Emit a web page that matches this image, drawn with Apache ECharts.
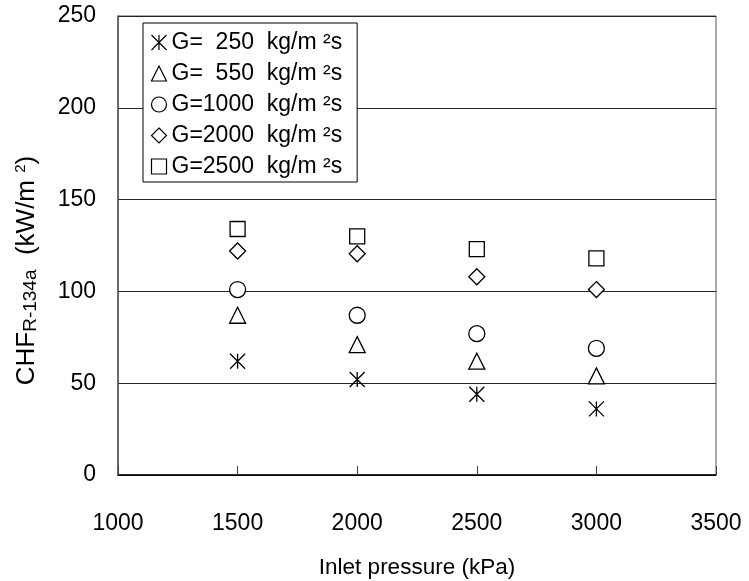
<!DOCTYPE html>
<html>
<head>
<meta charset="utf-8">
<script src="https://cdn.jsdelivr.net/npm/echarts@6/dist/echarts.min.js"></script>
<style>html,body{margin:0;padding:0;background:#fff;}#c{width:749px;height:581px;}</style>
</head>
<body>
<div id="c"></div>
<script>
var pressures = [1500, 2000, 2500, 3000];
var g250  = [62, 52, 44, 36];
var g550  = [87, 71, 62, 54];
var g1000 = [101, 87, 77, 69];
var g2000 = [122, 120.5, 108, 101];
var g2500 = [134, 130, 123, 118];
var seriesNames = ['G=  250  kg/m \u00B2s', 'G=  550  kg/m \u00B2s', 'G=1000  kg/m \u00B2s', 'G=2000  kg/m \u00B2s', 'G=2500  kg/m \u00B2s'];
var xTicks = [1000, 1500, 2000, 2500, 3000, 3500];
var yTicks = [0, 50, 100, 150, 200, 250];

var FONT = '"Liberation Sans", Arial, sans-serif';
var asterisk = 'path://M0,0L10,10M10,0L0,10M5,0L5,10';
var symbols = [asterisk, 'triangle', 'circle', 'diamond', 'rect'];
var sizes = [15, 16, 16, 16, 15];
var values = [g250, g550, g1000, g2000, g2500];

function pairs(v) { return pressures.map(function (p, i) { return [p, v[i]]; }); }

var series = values.map(function (v, k) {
  return {
    name: seriesNames[k],
    type: 'scatter',
    data: pairs(v),
    symbol: symbols[k],
    symbolSize: sizes[k],
    itemStyle: { color: k === 0 ? 'none' : '#fff', borderColor: '#000', borderWidth: 1.3, opacity: 1 },
    emphasis: { disabled: true },
    z: 5
  };
});

var chart = echarts.init(document.getElementById('c'), null, { renderer: 'canvas' });
chart.setOption({
  animation: false,
  backgroundColor: '#fff',
  textStyle: { fontFamily: FONT },
  grid: { left: 118, top: 16, width: 598, height: 459, containLabel: false, outerBoundsMode: 'none', show: true, borderColor: '#555', borderWidth: 1, backgroundColor: 'transparent' },
  legend: {
    orient: 'vertical',
    left: 143, top: 23,
    padding: [8, 15, 4, 6],
    itemGap: 8,
    itemWidth: 15, itemHeight: 15,
    backgroundColor: '#fff',
    borderColor: '#000',
    borderWidth: 1,
    textStyle: { fontSize: 23, color: '#000', fontFamily: FONT },
    data: seriesNames.map(function (n, k) {
      return { name: n, icon: symbols[k], itemStyle: { color: k === 0 ? 'none' : '#fff', borderColor: '#000', borderWidth: 1.2 } };
    })
  },
  xAxis: {
    type: 'value', min: 1000, max: 3500, interval: 500,
    name: 'Inlet pressure (kPa)', nameLocation: 'middle', nameGap: 81,
    nameTextStyle: { fontSize: 22.5, color: '#000', fontFamily: FONT },
    axisLine: { lineStyle: { color: '#000', width: 1.5 } },
    axisTick: { inside: true, length: 9, lineStyle: { color: '#444' } },
    axisLabel: { margin: 37, fontSize: 23, color: '#000', fontFamily: FONT, formatter: function (v) { return String(v); } },
    splitLine: { show: false }
  },
  yAxis: {
    type: 'value', min: 0, max: 250, interval: 50,
    name: '{a|CHF}{b|R-134a}{a|  (kW/m }{c|2}{a|)}',
    nameLocation: 'middle', nameGap: 74, nameRotate: 90,
    nameTextStyle: {
      color: '#000', fontFamily: FONT,
      padding: [0, 50, 0, 0],
      rich: {
        a: { fontSize: 26, color: '#000', fontFamily: FONT, lineHeight: 34, verticalAlign: 'middle' },
        b: { fontSize: 19, color: '#000', fontFamily: FONT, lineHeight: 34, verticalAlign: 'bottom', padding: [0, 0, 4, 0] },
        c: { fontSize: 15, color: '#000', fontFamily: FONT, lineHeight: 34, verticalAlign: 'top', padding: [3, 0, 0, 0] }
      }
    },
    axisLine: { show: true, lineStyle: { color: '#555', width: 1.5 } },
    axisTick: { show: false },
    axisLabel: { margin: 22, fontSize: 23, color: '#000', fontFamily: FONT, formatter: function (v) { return String(v); } },
    splitLine: { show: true, lineStyle: { color: '#222', width: 1 } }
  },
  series: series
});
</script>
</body>
</html>
